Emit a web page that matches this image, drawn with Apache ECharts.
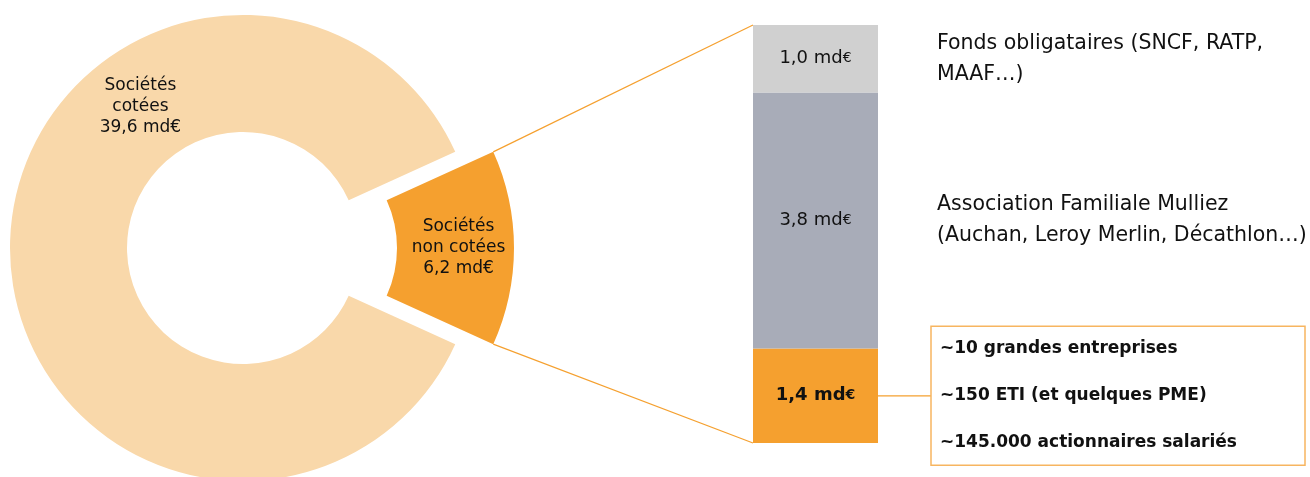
<!DOCTYPE html>
<html>
<head>
<meta charset="utf-8">
<script src="https://cdn.jsdelivr.net/npm/echarts@6/dist/echarts.min.js"></script>
<style>
  html, body { margin: 0; padding: 0; background: #fff; }
  #main { width: 1310px; height: 477px; }
</style>
</head>
<body>
<div id="main"></div>
<script>
// donut : part non cotée vs cotée (md€)
const pieNames = ['Sociétés non cotées', 'Sociétés cotées'];
const pieLabels = ['Sociétés\nnon cotées\n6,2 md€', 'Sociétés\ncotées\n39,6 md€'];
const pieValues = [6.2, 39.6];

// détail des 6,2 md€ non cotés, du bas vers le haut
const barNames = ['Salariés', 'Mulliez', 'Fonds obligataires'];
const barValues = [1.4, 3.8, 1.0];
const barNotes = [
  null,
  'Association Familiale Mulliez\n(Auchan, Leroy Merlin, Décathlon…)',
  'Fonds obligataires (SNCF, RATP,\nMAAF…)'
];
const boxLines = ['~10 grandes entreprises', '~150 ETI (et quelques PME)', '~145.000 actionnaires salariés'];

const ORANGE = '#F5A02F';
const PEACH = '#F9D8AA';
const GREY = '#A8ACB8';
const LIGHT = '#D0D0D0';
const FONT = '"DejaVu Sans", "Noto Sans", sans-serif';

const CX = 243, CY = 248, R0 = 116, R1 = 233, OFFSET = 38;
const total = pieValues[0] + pieValues[1];
const half = 360 * pieValues[0] / total / 2;

const chart = echarts.init(document.getElementById('main'), null, { renderer: 'canvas' });

function fmt(v) {
  return v.toFixed(1).replace('.', ',');
}

const option = {
  animation: false,
  grid: { left: 753, top: 25, width: 125, height: 418 },
  xAxis: { type: 'category', data: ['non cotées'], show: false },
  yAxis: { type: 'value', min: 0, max: 6.2, show: false },
  series: [
    {
      type: 'pie',
      silent: true,
      center: [CX, CY],
      radius: [R0, R1],
      startAngle: half,
      clockwise: true,
      avoidLabelOverlap: false,
      selectedMode: 'single',
      selectedOffset: OFFSET,
      label: {
        show: true,
        position: 'inside',
        formatter: p => pieLabels[p.dataIndex],
        color: '#111',
        fontFamily: FONT,
        fontSize: 17,
        lineHeight: 21,
        align: 'center'
      },
      labelLayout: function (params) {
        if (params.dataIndex !== 1) return {};
        const a = 126 * Math.PI / 180;
        const rm = (R0 + R1) / 2;
        return { x: CX + rm * Math.cos(a), y: CY - rm * Math.sin(a), align: 'center', verticalAlign: 'middle' };
      },
      labelLine: { show: false },
      select: { itemStyle: {} },
      data: [
        { name: pieNames[0], value: pieValues[0], selected: true, itemStyle: { color: ORANGE } },
        { name: pieNames[1], value: pieValues[1], itemStyle: { color: PEACH } }
      ]
    },
    ...barNames.map((n, i) => ({
      type: 'bar',
      name: n,
      stack: 'total',
      silent: true,
      barWidth: '100%',
      itemStyle: { color: [ORANGE, GREY, LIGHT][i] },
      label: {
        show: true,
        position: 'inside',
        formatter: p => '{v|' + fmt(p.value) + ' md}{e|€}',
        rich: {
          v: { fontFamily: FONT, fontSize: 18, color: '#111', fontWeight: i === 0 ? 'bold' : 'normal' },
          e: { fontFamily: FONT, fontSize: 14, color: '#111', fontWeight: i === 0 ? 'bold' : 'normal' }
        }
      },
      data: [barValues[i]]
    }))
  ]
};

chart.setOption(option);

// repères calculés depuis les axes et la géométrie du donut
const gridLeft = 753, gridRight = 753 + 125;
const yTop = chart.convertToPixel({ gridIndex: 0 }, [0, barValues[0] + barValues[1] + barValues[2]])[1];
const yBottom = chart.convertToPixel({ gridIndex: 0 }, [0, 0])[1];
const mids = [];
let acc = 0;
barValues.forEach(v => {
  mids.push(chart.convertToPixel({ gridIndex: 0 }, [0, acc + v / 2])[1]);
  acc += v;
});

const ha = half * Math.PI / 180;
const sliceTop = [CX + OFFSET + R1 * Math.cos(ha), CY - R1 * Math.sin(ha)];
const sliceBottom = [CX + OFFSET + R1 * Math.cos(ha), CY + R1 * Math.sin(ha)];

const graphics = [
  { type: 'line', shape: { x1: sliceTop[0], y1: sliceTop[1], x2: gridLeft, y2: yTop }, style: { stroke: ORANGE, lineWidth: 1.2 } },
  { type: 'line', shape: { x1: sliceBottom[0], y1: sliceBottom[1], x2: gridLeft, y2: yBottom }, style: { stroke: ORANGE, lineWidth: 1.2 } }
];

barNotes.forEach((t, i) => {
  if (!t) return;
  graphics.push({
    type: 'text', x: 937, y: mids[i],
    style: { text: t, font: '20.5px ' + FONT, fill: '#111', lineHeight: 31, verticalAlign: 'middle', align: 'left' }
  });
});

const boxX = 931, boxW = 374, boxH = 139;
graphics.push({ type: 'line', shape: { x1: gridRight, y1: mids[0], x2: boxX, y2: mids[0] }, style: { stroke: ORANGE, lineWidth: 1.2 } });
graphics.push({
  type: 'rect', shape: { x: boxX, y: mids[0] - boxH / 2, width: boxW, height: boxH },
  style: { fill: '#fff', stroke: '#F7B560', lineWidth: 1.5 }
});
boxLines.forEach((t, k) => {
  graphics.push({
    type: 'text', x: 940, y: mids[0] + (k - 1) * 47,
    style: { text: t, font: 'bold 17px ' + FONT, fill: '#111', verticalAlign: 'middle', align: 'left' }
  });
});

chart.setOption({ graphic: graphics });
</script>
</body>
</html>
